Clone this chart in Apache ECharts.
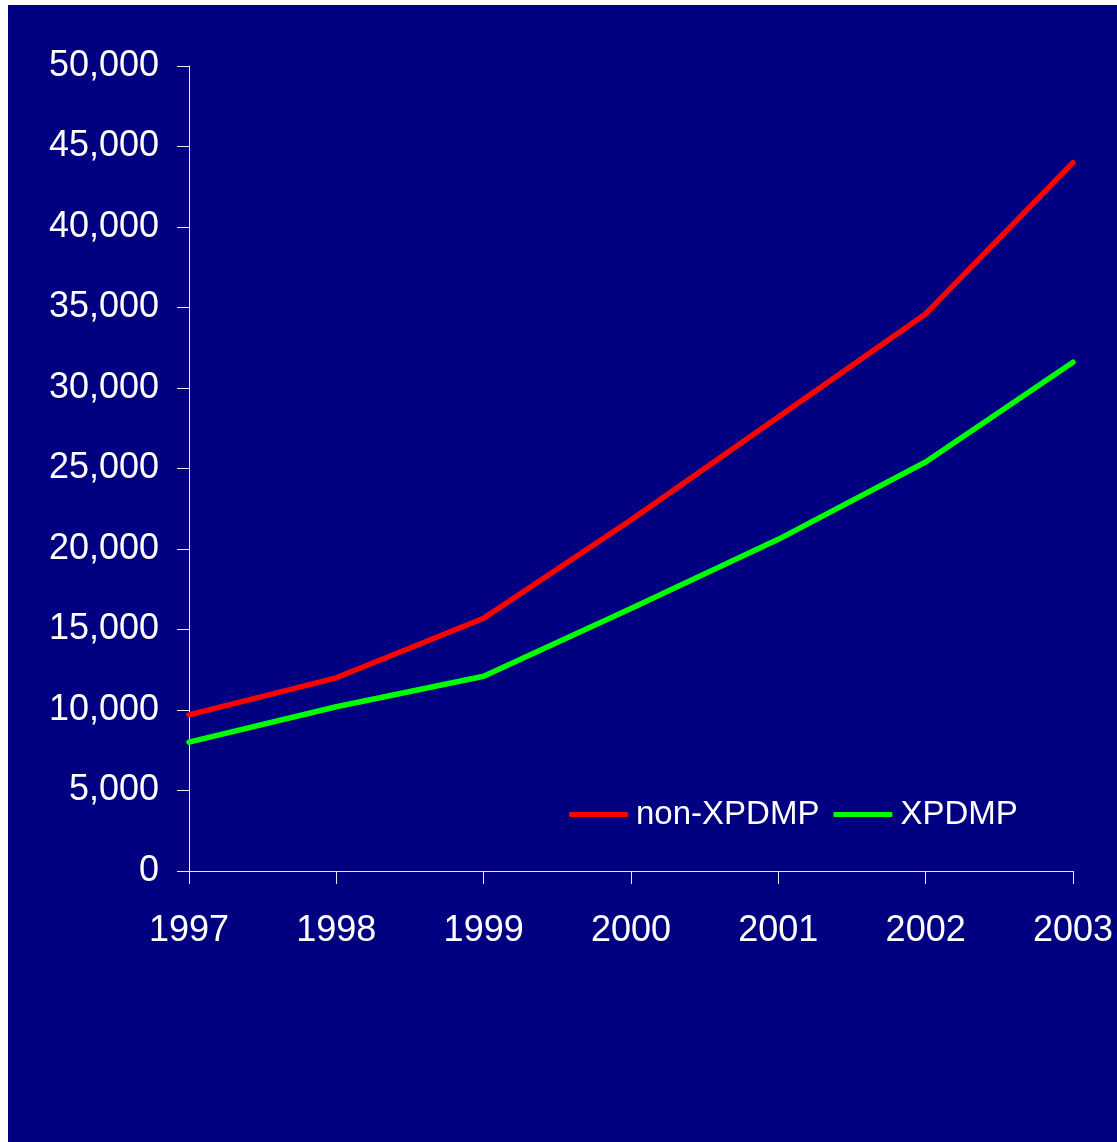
<!DOCTYPE html>
<html>
<head>
<meta charset="utf-8">
<title>non-XPDMP vs XPDMP, 1997–2003</title>
<script src="https://cdn.jsdelivr.net/npm/echarts@6/dist/echarts.min.js"></script>
<style>
  html, body { margin: 0; padding: 0; background: #ffffff; width: 1117px; height: 1142px; overflow: hidden; }
  #chart { position: absolute; left: 8px; top: 5px; width: 1109px; height: 1137px; background: #000080; }
</style>
</head>
<body>
<div id="chart"></div>
<script>
// Years along the horizontal axis
const years = ['1997', '1998', '1999', '2000', '2001', '2002', '2003'];
// Series values per year
const nonXpdmp = [9700, 12000, 15700, 21800, 28200, 34600, 44000];
const xpdmp = [8000, 10200, 12100, 16300, 20600, 25400, 31600];
// Series names shown in the legend
const seriesNames = ['non-XPDMP', 'XPDMP'];
const seriesColors = ['#ff0000', '#00ff00'];

const FONT = "'Liberation Sans', Arial, sans-serif";
const AXIS_COLOR = '#e8e8ff';

const chart = echarts.init(document.getElementById('chart'), null, { renderer: 'canvas' });

chart.setOption({
  backgroundColor: '#000080',
  animation: false,
  grid: { left: 181, top: 61, right: 44, bottom: 271, containLabel: false },
  legend: {
    data: seriesNames.map((name, i) => ({
      name: name,
      icon: 'roundRect',
      itemStyle: { color: seriesColors[i] }
    })),
    left: 556,
    top: 788,
    itemWidth: 59,
    itemHeight: 5,
    itemGap: 14,
    textStyle: { color: '#ffffff', fontSize: 33, fontFamily: FONT, padding: [0, 0, 0, 3] }
  },
  xAxis: {
    type: 'category',
    data: years,
    boundaryGap: false,
    axisLine: { lineStyle: { color: AXIS_COLOR, width: 1 } },
    axisTick: { show: true, alignWithLabel: true, length: 13, lineStyle: { color: AXIS_COLOR } },
    axisLabel: { color: '#ffffff', fontSize: 36, fontFamily: FONT, margin: 42 },
    splitLine: { show: false }
  },
  yAxis: {
    type: 'value',
    min: 0,
    max: 50000,
    interval: 5000,
    axisLine: { show: true, lineStyle: { color: AXIS_COLOR, width: 1 } },
    axisTick: { show: true, length: 12, lineStyle: { color: AXIS_COLOR } },
    axisLabel: {
      color: '#ffffff',
      fontSize: 36,
      fontFamily: FONT,
      margin: 30,
      formatter: v => v.toLocaleString('en-US')
    },
    splitLine: { show: false }
  },
  series: [
    {
      name: seriesNames[0],
      type: 'line',
      data: nonXpdmp,
      symbol: 'none',
      color: seriesColors[0],
      lineStyle: { color: seriesColors[0], width: 5.5, cap: 'round', join: 'round' }
    },
    {
      name: seriesNames[1],
      type: 'line',
      data: xpdmp,
      symbol: 'none',
      color: seriesColors[1],
      lineStyle: { color: seriesColors[1], width: 5.5, cap: 'round', join: 'round' }
    }
  ]
});
</script>
</body>
</html>
